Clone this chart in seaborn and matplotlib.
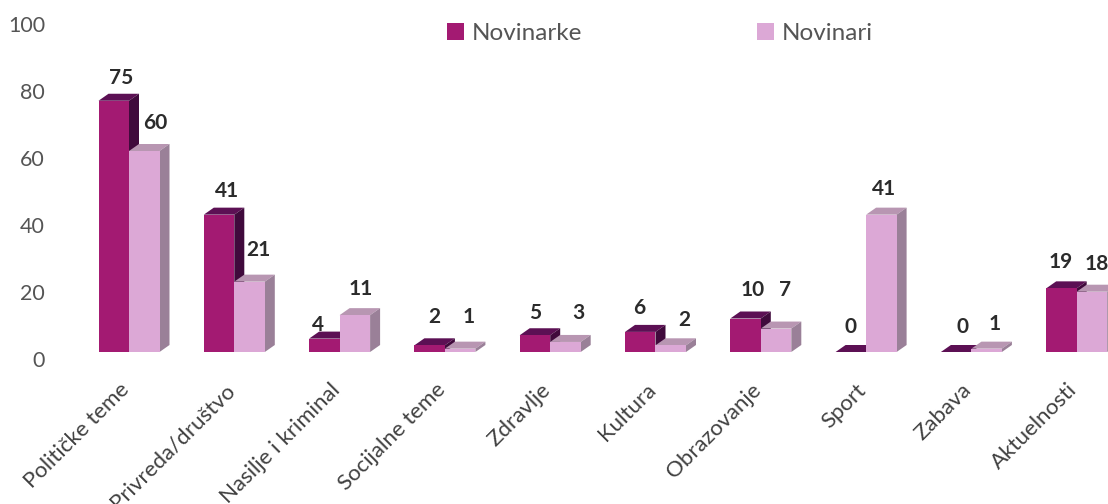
import numpy as np
import pandas as pd
import seaborn as sns
import matplotlib.pyplot as plt
from matplotlib.patches import Polygon
from matplotlib.transforms import ScaledTranslation

categories = ["Političke teme", "Privreda/društvo", "Nasilje i kriminal", "Socijalne teme", "Zdravlje",
              "Kultura", "Obrazovanje", "Sport", "Zabava", "Aktuelnosti"]
novinarke = [75, 41, 4, 2, 5, 6, 10, 0, 0, 19]
novinari = [60, 21, 11, 1, 3, 2, 7, 41, 1, 18]
y_ticks = [0, 20, 40, 60, 80, 100]

# Hand placed nudges of the value labels (pixels right, pixels above the bar top)
nudge_f = [(7, 23), (8, 24), (-6, 14), (5, 28), (0, 22), (-1, 24), (7, 28), (0, 25), (6, 25), (-1, 26)]
nudge_m = [(11, 28), (9, 32), (6, 26), (8, 32), (13, 29), (14, 25), (9, 39), (3, 26), (8, 25), (5, 28)]

W, H, DPI = 1108, 504, 100
LEFT, BASE = 70, 352       # axes left edge and bar floor, in pixels
PX_X, PX_Y = 105.3, 3.35   # pixels per category, pixels per percent
FIRST = 129                # pixel position of the first category
DEPTH_X, DEPTH_Y = 10 / PX_X, 7 / PX_Y

sns.set_theme(style="white")
plt.rcParams["font.family"] = ["Lato", "DejaVu Sans"]

df = pd.DataFrame({
    "tema": categories * 2,
    "udeo": novinarke + novinari,
    "pol": ["Novinarke"] * len(categories) + ["Novinari"] * len(categories),
})

fig = plt.figure(figsize=(W / DPI, H / DPI), dpi=DPI)
ax = fig.add_axes([LEFT / W, (H - BASE) / H, (W - LEFT) / W, BASE / H])

colors = {"Novinarke": "#a31a72", "Novinari": "#dca8d6"}
sns.barplot(data=df, x="tema", y="udeo", hue="pol", palette=colors, saturation=1,
            width=61 / PX_X, gap=0, dodge=True, ax=ax, legend=False, linewidth=0)

ax.set_xlim((LEFT - FIRST) / PX_X, (W - FIRST) / PX_X)
ax.set_ylim(0, BASE / PX_Y)


def draw_depth(rect, top_color, side_color, z):
    # Fake the 3D box from the bar that seaborn drew
    x0, x1 = rect.get_x(), rect.get_x() + rect.get_width()
    h = rect.get_height()
    ax.add_patch(Polygon([(x0, h), (x1, h), (x1 + DEPTH_X, h + DEPTH_Y), (x0 + DEPTH_X, h + DEPTH_Y)],
                         fc=top_color, lw=0, zorder=z, clip_on=False))
    ax.add_patch(Polygon([(x1, 0), (x1 + DEPTH_X, DEPTH_Y), (x1 + DEPTH_X, h + DEPTH_Y), (x1, h)],
                         fc=side_color, lw=0, zorder=z, clip_on=False))
    rect.set_zorder(z + 0.5)


styles = [("#5c1054", "#400a3c", 2), ("#b896b2", "#9a8098", 3)]
nudges = [nudge_f, nudge_m]
for bars, (top_c, side_c, z), nudge in zip(ax.containers, styles, nudges):
    for rect, (dx, dy) in zip(bars.patches, nudge):
        draw_depth(rect, top_c, side_c, z)
        h = rect.get_height()
        ax.annotate(f"{h:.0f}", (rect.get_x() + rect.get_width() / 2, h), xytext=(dx * 0.72, dy * 0.72),
                    textcoords="offset points", ha="center", va="center", fontsize=15,
                    fontweight="bold", color="#2b2b2b", zorder=6, annotation_clip=False)

sns.despine(ax=ax, left=True, bottom=True)
ax.set_xlabel("")
ax.set_ylabel("")
ax.set_yticks(y_ticks)
ax.tick_params(axis="both", length=0)
ax.tick_params(axis="y", labelsize=15.5, labelcolor="#555555", pad=18)
ax.tick_params(axis="x", pad=20)
for lab in ax.get_yticklabels():
    lab.set_transform(lab.get_transform() + ScaledTranslation(0, -7 / DPI, fig.dpi_scale_trans))
ax.set_xticks(range(len(categories)))
ax.set_xticklabels(categories, rotation=45, ha="right", rotation_mode="anchor", fontsize=16, color="#404040")
for lab in ax.get_xticklabels():
    lab.set_transform(lab.get_transform() + ScaledTranslation(-10 / DPI, 0, fig.dpi_scale_trans))

# Legend
handles = [plt.Rectangle((0, 0), 1, 1, fc=colors[k], lw=0) for k in colors]
ax.legend(handles, list(colors), ncol=2, frameon=False, loc="center", bbox_to_anchor=(660 / W, 0.934),
          bbox_transform=fig.transFigure, fontsize=17.5, labelcolor="#555555", handlelength=0.7,
          handleheight=0.7, handletextpad=0.3, columnspacing=7.2)

fig.savefig("out.png", dpi=DPI, facecolor="white")
